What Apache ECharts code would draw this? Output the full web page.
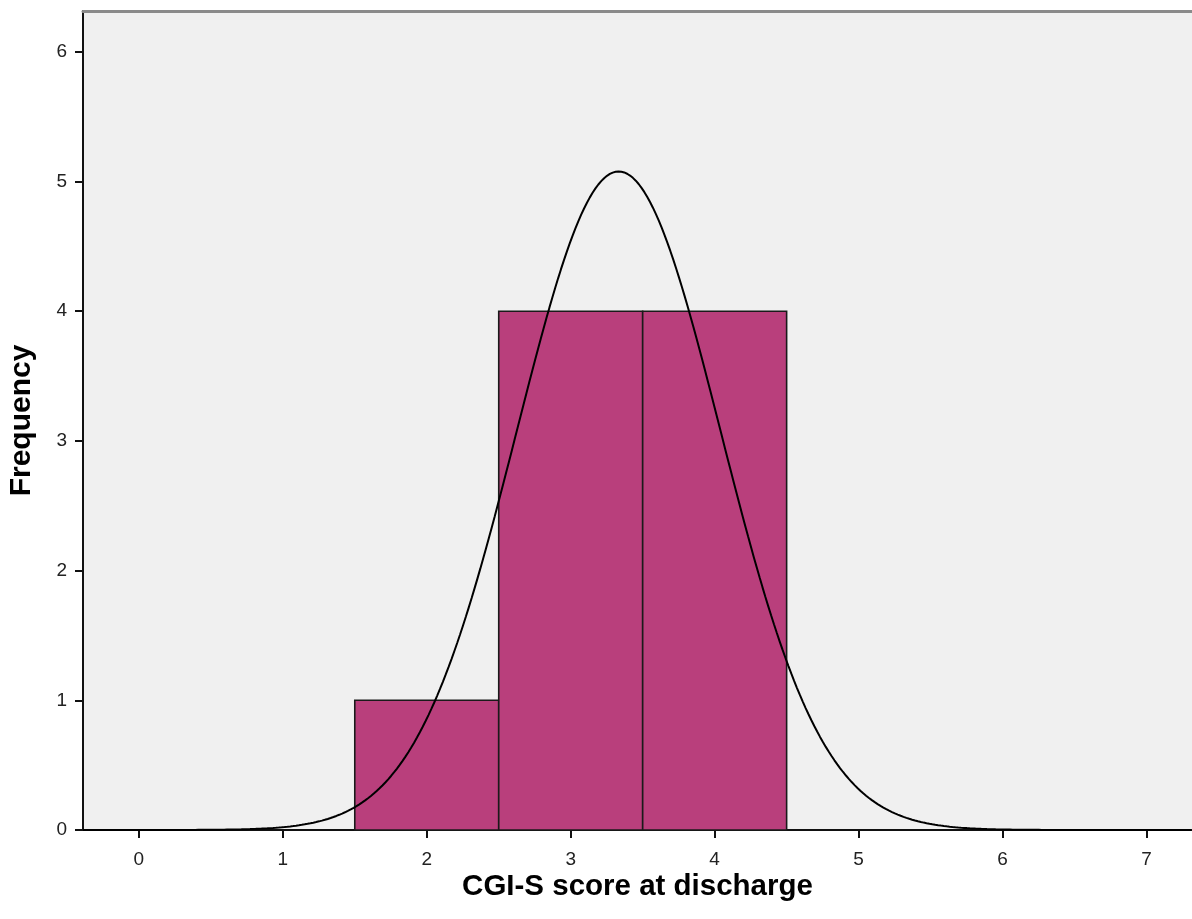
<!DOCTYPE html>
<html>
<head>
<meta charset="utf-8">
<title>CGI-S score at discharge</title>
<script src="https://cdn.jsdelivr.net/npm/echarts@6/dist/echarts.min.js"></script>
<style>
  html, body { margin: 0; padding: 0; background: #ffffff; }
  #chart { width: 1192px; height: 919px; }
</style>
</head>
<body>
<div id="chart"></div>
<script>
// Histogram bins (bin centre, count), each bin one unit wide
const binCenters = [2, 3, 4];
const binCounts = [1, 4, 4];
const binWidth = 1;

// Axis ranges and tick labels
const xRange = [-0.388, 7.316];
const yRange = [0, 6.315];
const xTicks = [0, 1, 2, 3, 4, 5, 6, 7];
const yTicks = [0, 1, 2, 3, 4, 5, 6];

// Normal curve fitted to the binned data (mean, sample SD), scaled to counts
const n = binCounts.reduce((a, b) => a + b, 0);
const mean = binCenters.reduce((s, x, i) => s + x * binCounts[i], 0) / n;
const sd = Math.sqrt(binCenters.reduce((s, x, i) => s + binCounts[i] * (x - mean) * (x - mean), 0) / (n - 1));
const curve = [];
for (let x = xRange[0]; x <= xRange[1] + 1e-9; x += 0.02) {
  const z = (x - mean) / sd;
  curve.push([x, n * binWidth * Math.exp(-0.5 * z * z) / (sd * Math.sqrt(2 * Math.PI))]);
}

const FONT = '"Liberation Sans", Arial, sans-serif';
const chart = echarts.init(document.getElementById('chart'), null, { renderer: 'canvas' });

chart.setOption({
  animation: false,
  backgroundColor: '#ffffff',
  grid: {
    left: 83, right: 0, top: 11, bottom: 89,
    containLabel: false, outerBoundsMode: 'none',
    show: true, backgroundColor: '#f0f0f0', borderWidth: 0
  },
  xAxis: [{
    type: 'value', min: xRange[0], max: xRange[1],
    name: 'CGI-S score at discharge', nameLocation: 'middle', nameGap: 42, nameMoveOverlap: false,
    nameTextStyle: { fontFamily: FONT, fontSize: 29.5, fontWeight: 'bold', color: '#000', verticalAlign: 'top' },
    axisLine: { show: true, onZero: false, lineStyle: { color: '#111', width: 2 } },
    axisTick: { show: true, length: 8, customValues: xTicks, lineStyle: { color: '#111', width: 2 } },
    axisLabel: { customValues: xTicks, margin: 20, fontFamily: FONT, fontSize: 19, color: '#222' },
    splitLine: { show: false }
  }, {
    // top frame line of the plot area
    type: 'value', position: 'top', min: xRange[0], max: xRange[1],
    axisLine: { show: true, onZero: false, lineStyle: { color: '#8a8a8a', width: 3 } },
    axisTick: { show: false }, axisLabel: { show: false }, splitLine: { show: false }
  }],
  yAxis: {
    type: 'value', min: yRange[0], max: yRange[1],
    name: 'Frequency', nameLocation: 'middle', nameGap: 46, nameRotate: 90, nameMoveOverlap: false,
    nameTextStyle: { fontFamily: FONT, fontSize: 30, fontWeight: 'bold', color: '#000' },
    axisLine: { show: true, onZero: false, lineStyle: { color: '#111', width: 2 } },
    axisTick: { show: true, length: 8, customValues: yTicks, lineStyle: { color: '#111', width: 2 } },
    axisLabel: { customValues: yTicks, margin: 16, fontFamily: FONT, fontSize: 19, color: '#222' },
    splitLine: { show: false }
  },
  series: [{
    type: 'custom',
    xAxisIndex: 0,
    data: binCenters.map((c, i) => [c, binCounts[i]]),
    encode: { x: 0, y: 1 },
    renderItem: function (params, api) {
      const c = api.value(0), h = api.value(1);
      const p0 = api.coord([c - binWidth / 2, h]);
      const p1 = api.coord([c + binWidth / 2, 0]);
      return {
        type: 'rect',
        shape: { x: p0[0], y: p0[1], width: p1[0] - p0[0], height: p1[1] - p0[1] },
        style: { fill: '#b93f7c', stroke: '#1a1a1a', lineWidth: 1.6 }
      };
    },
    z: 2
  }, {
    type: 'line',
    xAxisIndex: 0,
    data: curve,
    showSymbol: false,
    smooth: false,
    clip: true,
    lineStyle: { color: '#000', width: 2 },
    z: 3
  }]
});
</script>
</body>
</html>
